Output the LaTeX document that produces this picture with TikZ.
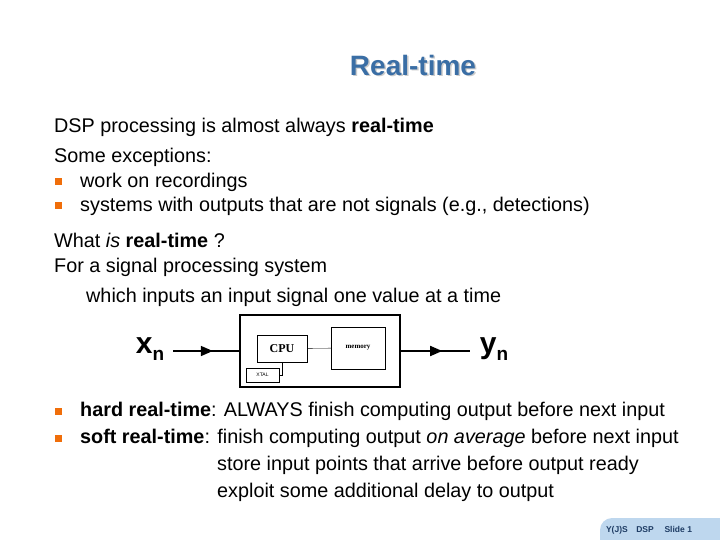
\documentclass[tikz,border=0pt]{standalone}
\usepackage{fontspec}
\setmainfont{Liberation Sans}
\newfontfamily\serifcpu{Liberation Serif}
\usetikzlibrary{arrows.meta,decorations.markings}
\definecolor{titleblue}{RGB}{58,110,165}
\definecolor{bulletorange}{RGB}{240,110,10}
\definecolor{tabblue}{RGB}{190,215,238}
\definecolor{tabtext}{RGB}{30,60,100}
\tikzset{
  body/.style={anchor=west,inner sep=0pt,font=\fontsize{19.8}{22}\selectfont},
  bul/.style={fill=bulletorange,minimum size=7pt,inner sep=0pt},
  part/.style={draw,thin,inner sep=0pt},
  midarrow/.style={line width=1.6pt,decoration={markings,mark=at position 0.6 with {\arrow{Triangle[length=12pt,width=10pt]}}},postaction=decorate}
}
\begin{document}
\begin{tikzpicture}[x=1pt,y=-1pt]
\useasboundingbox (0,0) rectangle (720,540);
% title
\node[font=\fontsize{28}{30}\selectfont\bfseries,text=gray!40] at (414.5,66.5) {Real-time};
\node (title) [font=\fontsize{28}{30}\selectfont\bfseries,text=titleblue] at (413,65) {Real-time};
% text
\node (l1) [body] at (54,127) {DSP processing is almost always \textbf{real-time}};
\node (l2) [body] at (54,157) {Some exceptions:};
\node (b1) [bul] at (58,182) {};
\node (l3) [body] at (80,182) {work on recordings};
\node (b2) [bul] at (58,206) {};
\node (l4) [body] at (80,206) {systems with outputs that are not signals (e.g., detections)};
\node (l5) [body] at (54,240) {What \textit{is} \textbf{real-time} ?};
\node (l6) [body] at (54,267) {For a signal processing system};
\node (l7) [body] at (86,297) {which inputs an input signal one value at a time};
% block diagram
\node (box) [draw,very thick,minimum width=160pt,minimum height=72pt] at (320,351) {};
\node (cpu) [part,minimum width=50pt,minimum height=27pt,font=\serifcpu\bfseries\fontsize{12}{12}\selectfont] at (282,348.5) {CPU};
\node (mem) [part,minimum width=54pt,minimum height=42pt,font=\serifcpu\bfseries\fontsize{7}{7}\selectfont] at (358,348) {memory};
\node (xtal) [part,minimum width=33pt,minimum height=14pt,font=\fontsize{5}{5}\selectfont] at (262.5,375) {XTAL};
\draw[thin] (cpu) -- (mem);
\draw[thin] (cpu.south) |- (xtal.east);
\node (xn) [font=\fontsize{30}{30}\selectfont\bfseries] at (150,349) {x\raisebox{-7pt}{\fontsize{19}{19}\selectfont n}};
\node (yn) [font=\fontsize{30}{30}\selectfont\bfseries] at (494,349) {y\raisebox{-7pt}{\fontsize{19}{19}\selectfont n}};
\draw[midarrow] (173,351) -- (box.west);
\draw[midarrow] (box.east) -- (470,351);
% bullets
\node (b3) [bul] at (58,411) {};
\node (l8) [body] at (80,411) {\textbf{hard real-time}: ALWAYS finish computing output before next input};
\node (b4) [bul] at (58,438) {};
\node (l9) [body] at (80,438) {\textbf{soft real-time}: finish computing output \textit{on average} before next input};
\node (l10) [body] at (217,465) {store input points that arrive before output ready};
\node (l11) [body] at (217,492) {exploit some additional delay to output};
% footer
\fill[tabblue] (720,545) -- (600,545) -- (600,530) arc[start angle=180,end angle=270,radius=12] -- (720,518) -- cycle;
\node (foot) [font=\fontsize{8.5}{9}\selectfont\bfseries,text=tabtext] at (649,530) {Y(J)S\quad DSP\quad\ Slide 1};
\end{tikzpicture}
\end{document}
